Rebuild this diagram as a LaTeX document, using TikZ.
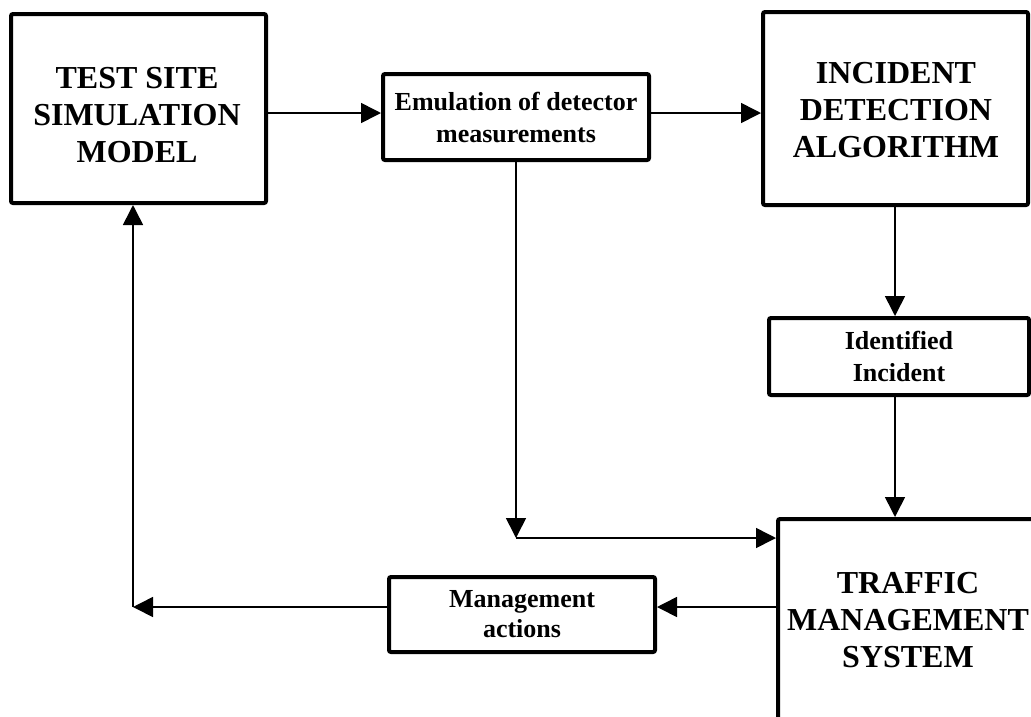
\documentclass[tikz,border=0pt]{standalone}
\usepackage{fontspec}
\setmainfont{Liberation Serif}
\usetikzlibrary{arrows.meta}

\begin{document}
\begin{tikzpicture}[x=1pt,y=-1pt,
  frame/.style={draw, line width=4pt, rounded corners=2pt, inner sep=0pt},
  title/.style={inner sep=0pt, align=center,
    font=\bfseries\fontsize{32}{37}\selectfont},
  label/.style={frame, align=center, font=\bfseries\fontsize{26}{32}\selectfont},
  flow/.style={line width=1.6pt, -{Triangle[length=20pt,width=20pt]}}]

\useasboundingbox (0,0) rectangle (1031,716);
\clip (0,0) rectangle (1031,716);

% main blocks: frame and title set separately
\node[frame, minimum width=255pt, minimum height=189pt] (tssm) at (138.5,108.5) {};
\node[title] (tssmtext) at (137,115) {TEST SITE\\SIMULATION\\MODEL};
\node[frame, minimum width=265pt, minimum height=193pt] (ida) at (895.5,108.5) {};
\node[title] (idatext) at (896,110.5) {INCIDENT\\DETECTION\\ALGORITHM};
\node[frame, minimum width=260pt, minimum height=204pt] (tms) at (908,621) {};
\node[title] (tmstext) at (908,620) {TRAFFIC\\MANAGEMENT\\SYSTEM};

% intermediate labels
\node[label, minimum width=266pt, minimum height=86pt] (emu) at (516,117)
  {Emulation of detector\\measurements};
\node[label, minimum width=260pt, minimum height=77pt] (ident) at (899,356.5)
  {Identified\\Incident};
\node[label, minimum width=266pt, minimum height=75pt,
  font=\bfseries\fontsize{26}{30}\selectfont] (mgmt) at (522,614.5)
  {Management\\actions};

% turning points of the bent connectors
\coordinate (bendA) at (516,538);
\coordinate (bendB) at (133,607);

% connectors
\draw[flow] (tssm.east |- 0,113) -- (emu.west |- 0,113);
\draw[flow] (emu.east |- 0,113) -- (ida.west |- 0,113);
\draw[flow] (emu.south) -- (bendA);
\draw[flow] (bendA) -- (tms.west |- bendA);
\draw[flow] (ida.south -| 895,0) -- (ident.north -| 895,0);
\draw[flow] (ident.south -| 895,0) -- (tms.north -| 895,0);
\draw[flow] (tms.west |- 0,607) -- (mgmt.east |- 0,607);
\draw[flow] (mgmt.west |- 0,607) -- (bendB);
\draw[flow] (bendB) -- (tssm.south -| bendB);
\end{tikzpicture}
\end{document}
